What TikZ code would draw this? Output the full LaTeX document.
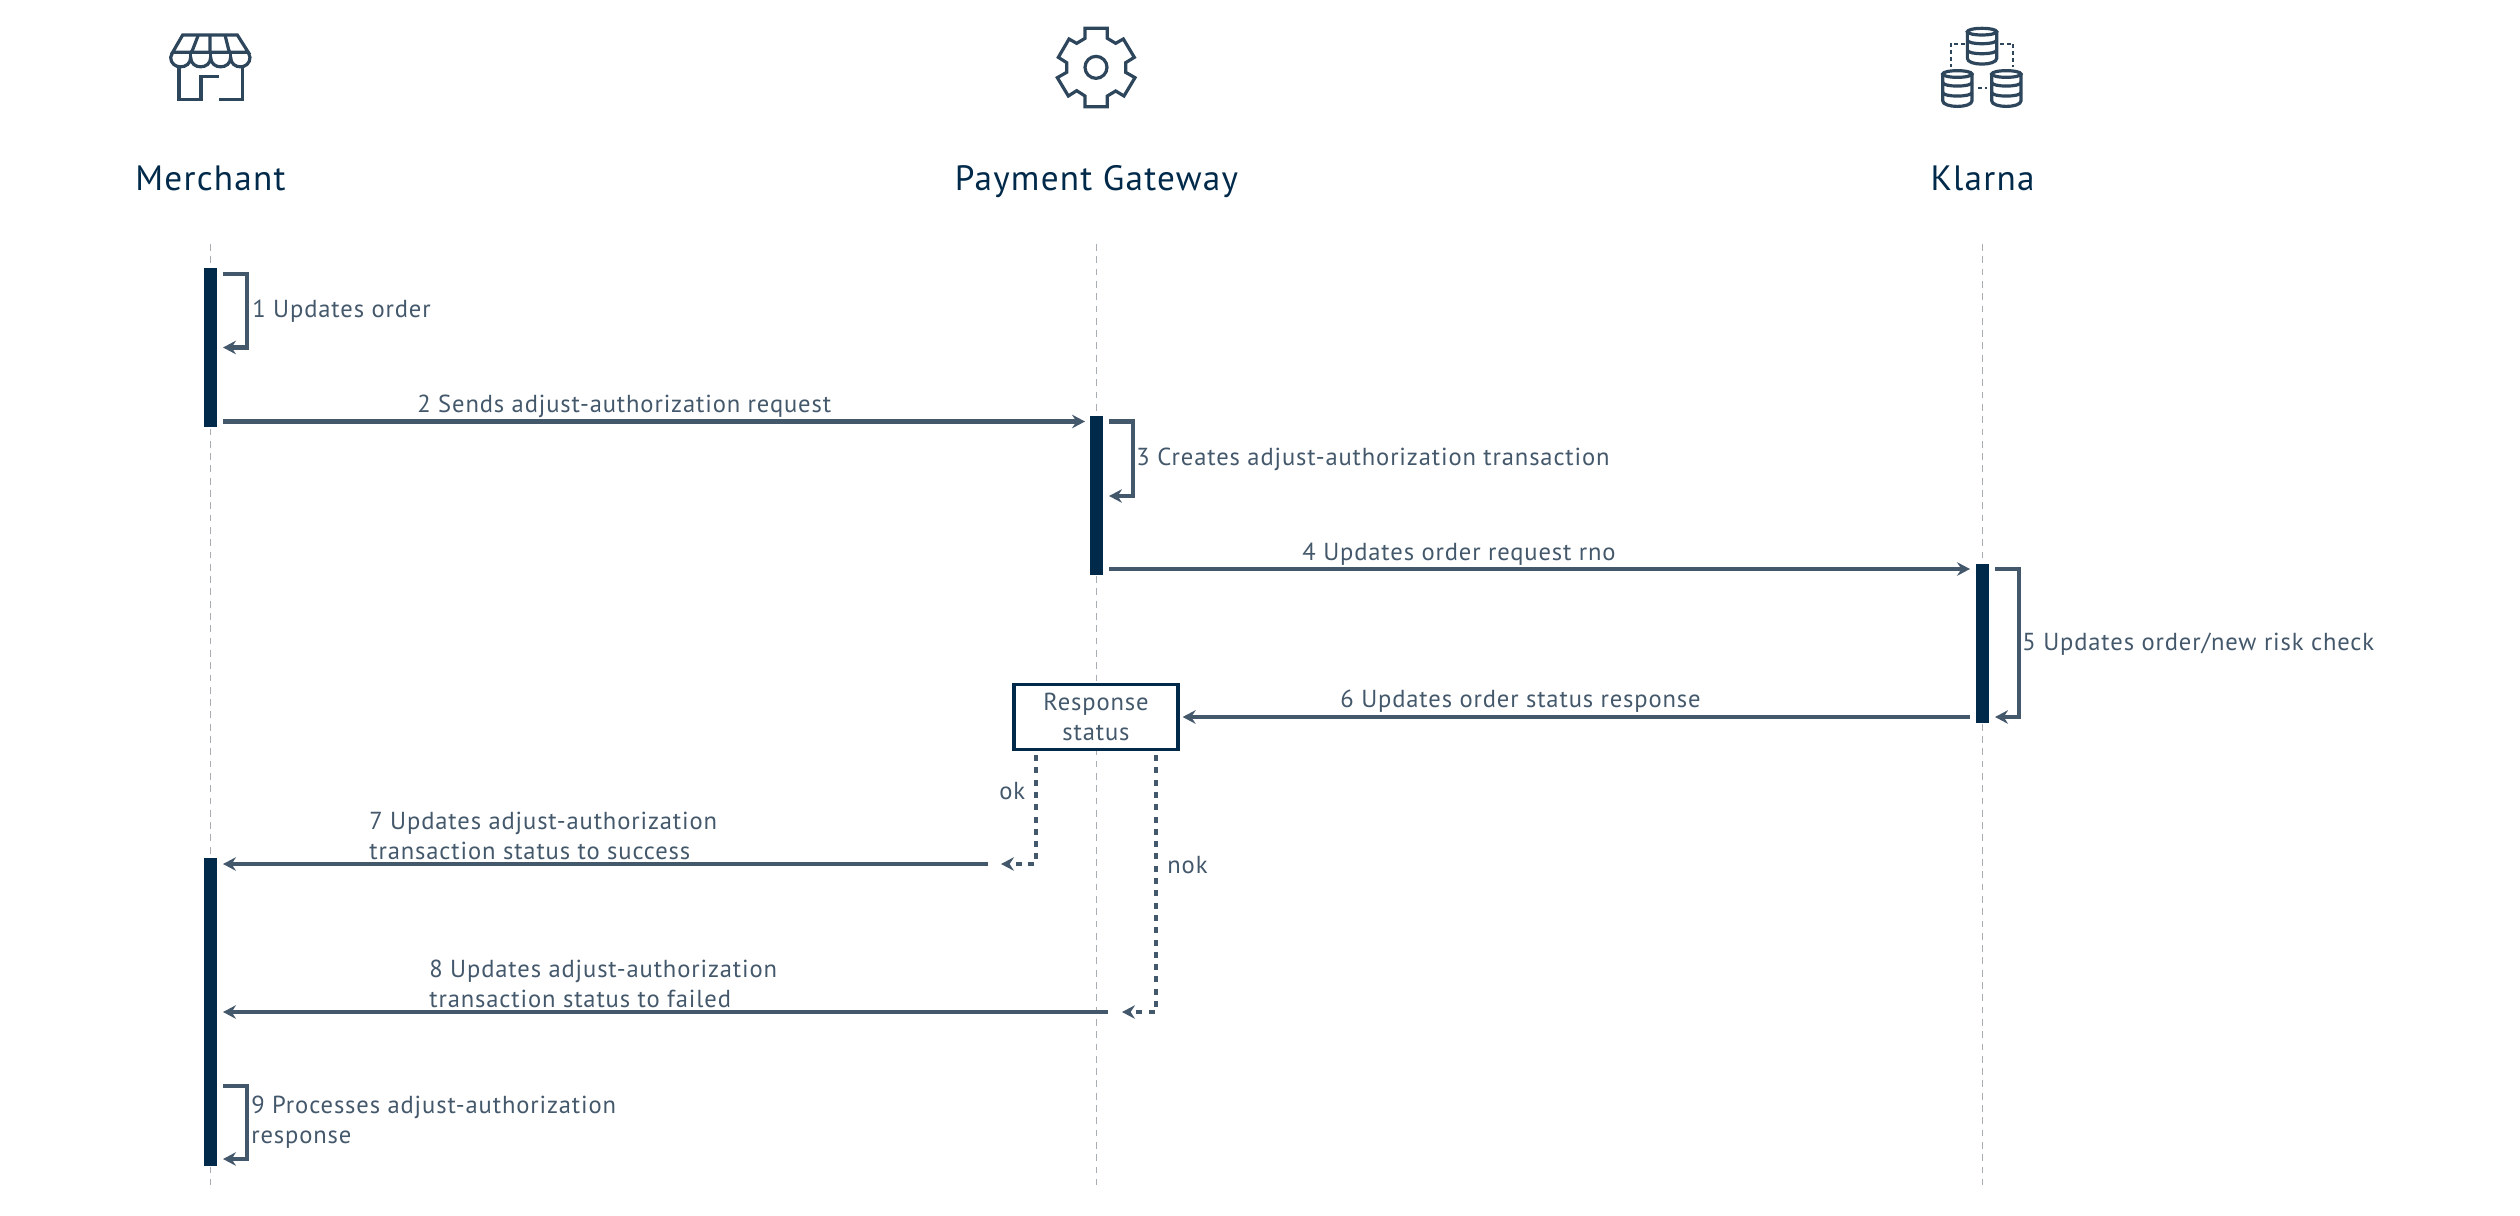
\documentclass[tikz,border=0pt]{standalone}
\usepackage{fontspec}
\setmainfont[LetterSpace=3.5]{PT Sans}
\usetikzlibrary{arrows.meta}
\definecolor{Navy}{HTML}{012A4A}
\definecolor{Slate}{HTML}{44586B}
\definecolor{Icon}{HTML}{2E465C}
\definecolor{Life}{HTML}{A8ADB3}
\tikzstyle{title} = [
    anchor=base,
    inner sep=0pt,
    text=Navy,
    font=\fontsize{17.6}{22}\selectfont
]
\tikzstyle{label} = [
    anchor=base west,
    inner sep=0pt,
    align=left,
    text=Slate,
    font=\fontsize{12.3}{15}\selectfont
]
\tikzstyle{bar} = [
    rectangle,
    inner sep=0pt,
    minimum width=6.3pt,
    fill=Navy
]
\tikzstyle{decision} = [
    rectangle,
    inner sep=0pt,
    minimum width=82pt,
    minimum height=32.5pt,
    align=center,
    text=Slate,
    fill=white,
    draw=Navy,
    line width=1.6pt,
    font=\fontsize{12.3}{15}\selectfont
]
\tikzstyle{lifeline} = [
    draw=Life,
    line width=0.65pt,
    dash pattern=on 3.4pt off 2.75pt
]
\tikzstyle{arrow} = [
    draw=Slate,
    line width=2.2pt,
    -{Stealth[length=6.5pt,width=6.8pt,inset=2.2pt]}
]
\tikzstyle{branch} = [
    arrow,
    dash pattern=on 3pt off 3.15pt
]
\tikzstyle{icon} = [
    draw=Icon,
    line width=1.6pt
]

\begin{document}
\begin{tikzpicture}[x=0.5pt,y=-0.5pt]

    \useasboundingbox (0,0) rectangle (2520,1215);

    % participants
    \node (merchant)  [title] at (210.5,190)  {Merchant};
    \node (gateway)   [title] at (1096.5,190) {Payment Gateway};
    \node (klarna)    [title] at (1982.5,190) {Klarna};

    \coordinate (lifeTop) at (0,244);
    \coordinate (lifeEnd) at (0,1185);
    \draw [lifeline] (merchant |- lifeTop) -- (merchant |- lifeEnd);
    \draw [lifeline] (gateway  |- lifeTop) -- (gateway  |- lifeEnd);
    \draw [lifeline] (klarna   |- lifeTop) -- (klarna   |- lifeEnd);

    % store
    \begin{scope}[shift={(100,0)},scale=1/3]
        \draw [icon] (218,157) -- (248,105) -- (412,105) -- (445,157) -- cycle;
        \draw [icon] (295,105) -- (275,157) (330,105) -- (330,157) (375,105) -- (388,157);
        \draw [icon] (218,157) -- (212,172) .. controls (212,210) and (272,210) .. (272,172)
                     .. controls (272,210) and (332,210) .. (332,172)
                     .. controls (332,210) and (392,210) .. (392,172)
                     .. controls (392,210) and (450,210) .. (450,172) -- (445,157);
        \draw [icon] (272,157) -- (272,172) (332,157) -- (332,172) (392,157) -- (392,172);
        \draw [icon] (237,198) -- (237,298) -- (303,298) -- (303,230) -- (358,230);
        \draw [icon] (358,298) -- (427,298) -- (427,198);
    \end{scope}

    % gear
    \begin{scope}[shift={(950,0)},scale=1/3]
        \draw [icon] (405,85) -- (472,85) -- (472,115) -- (497,130) -- (520,117) -- (553,172)
                     -- (527,188) -- (527,217) -- (555,233) -- (522,288) -- (497,273) -- (472,288)
                     -- (472,320) -- (405,320) -- (405,288) -- (380,272) -- (355,288) -- (322,233)
                     -- (350,217) -- (350,188) -- (325,172) -- (357,117) -- (380,130) -- (405,115) -- cycle;
        \draw [icon] (438,202) circle [radius=33];
    \end{scope}

    % databases
    \begin{scope}[shift={(1880,0)},scale=1/3]
        \foreach \dbx/\dby in {306/85, 232/212, 379/212} {
            \begin{scope}[shift={(\dbx,\dby)}]
                \draw [icon] (0,10) ellipse [x radius=44,y radius=10];
                \draw [icon] (-44,10) -- (-44,90) .. controls (-44,113) and (44,113) .. (44,90) -- (44,10);
                \draw [icon] (-44,35) .. controls (-44,50) and (44,50) .. (44,35);
                \draw [icon] (-44,65) .. controls (-44,80) and (44,80) .. (44,65);
            \end{scope}
        }
        \draw [draw=Icon,line width=0.9pt,dash pattern=on 2pt off 1.5pt]
            (255,131) -- (212,131) -- (212,200) (360,131) -- (400,131) -- (400,200) (295,263) -- (320,263);
    \end{scope}

    % activations
    \node (barMerchantA) [bar, minimum height=79.5pt] at (210.5,347.5)  {};
    \node (barGateway)   [bar, minimum height=79.5pt] at (1096.5,495.5) {};
    \node (barKlarna)    [bar, minimum height=79.5pt] at (1982.5,643.5) {};
    \node (barMerchantB) [bar, minimum height=154pt]  at (210.5,1012)   {};

    \node (responseStatus) [decision] at (1096,717) {Response\\status};

    % free ends
    \coordinate (updA) at (223,274);
    \coordinate (updB) at (223,347.5);
    \coordinate (sendA) at (223,421.5);
    \coordinate (sendB) at (1085,421.5);
    \coordinate (createA) at (1109,421.5);
    \coordinate (createB) at (1109,496);
    \coordinate (orderA) at (1109,569);
    \coordinate (orderB) at (1970,569);
    \coordinate (riskA) at (1995,569);
    \coordinate (riskB) at (1995,717);
    \coordinate (statusA) at (1970,717);
    \coordinate (okA) at (1036,755);
    \coordinate (okB) at (1001,864);
    \coordinate (successA) at (988,864);
    \coordinate (successB) at (223,864);
    \coordinate (nokA) at (1156,755);
    \coordinate (nokB) at (1122,1012);
    \coordinate (failedA) at (1108,1012);
    \coordinate (failedB) at (223,1012);
    \coordinate (procA) at (223,1086);
    \coordinate (procB) at (223,1159);

    % messages
    \draw [arrow] (updA) -- ++(24,0) |- (updB);
    \draw [arrow] (sendA) -- (sendB);
    \draw [arrow] (createA) -- ++(24,0) |- (createB);
    \draw [arrow] (orderA) -- (orderB);
    \draw [arrow] (riskA) -- ++(24,0) |- (riskB);
    \draw [arrow] (statusA) -- ([xshift=1.5pt]responseStatus.east);
    \draw [branch] (okA) |- (okB);
    \draw [arrow] (successA) -- (successB);
    \draw [branch] (nokA) |- (nokB);
    \draw [arrow] (failedA) -- (failedB);
    \draw [arrow] (procA) -- ++(24,0) |- (procB);

    % labels
    \node (txtUpd)     [label] at (252,317)   {1 Updates order};
    \node (txtSend)    [label] at (417,412)   {2 Sends adjust-authorization request};
    \node (txtCreate)  [label] at (1136,465)  {3 Creates adjust-authorization transaction};
    \node (txtOrder)   [label] at (1302,560)  {4 Updates order request rno};
    \node (txtRisk)    [label] at (2022,650)  {5 Updates order/new risk check};
    \node (txtStatus)  [label] at (1340,707)  {6 Updates order status response};
    \node (txtOk)      [label] at (999,799)   {ok};
    \node (txtNok)     [label] at (1167,873)  {nok};
    \node (txtSuccess) [label] at (369,859)   {7 Updates adjust-authorization\\transaction status to success};
    \node (txtFailed)  [label] at (429,1007)  {8 Updates adjust-authorization\\transaction status to failed};
    \node (txtProc)    [label] at (251,1143)  {9 Processes adjust-authorization\\response};

\end{tikzpicture}
\end{document}
